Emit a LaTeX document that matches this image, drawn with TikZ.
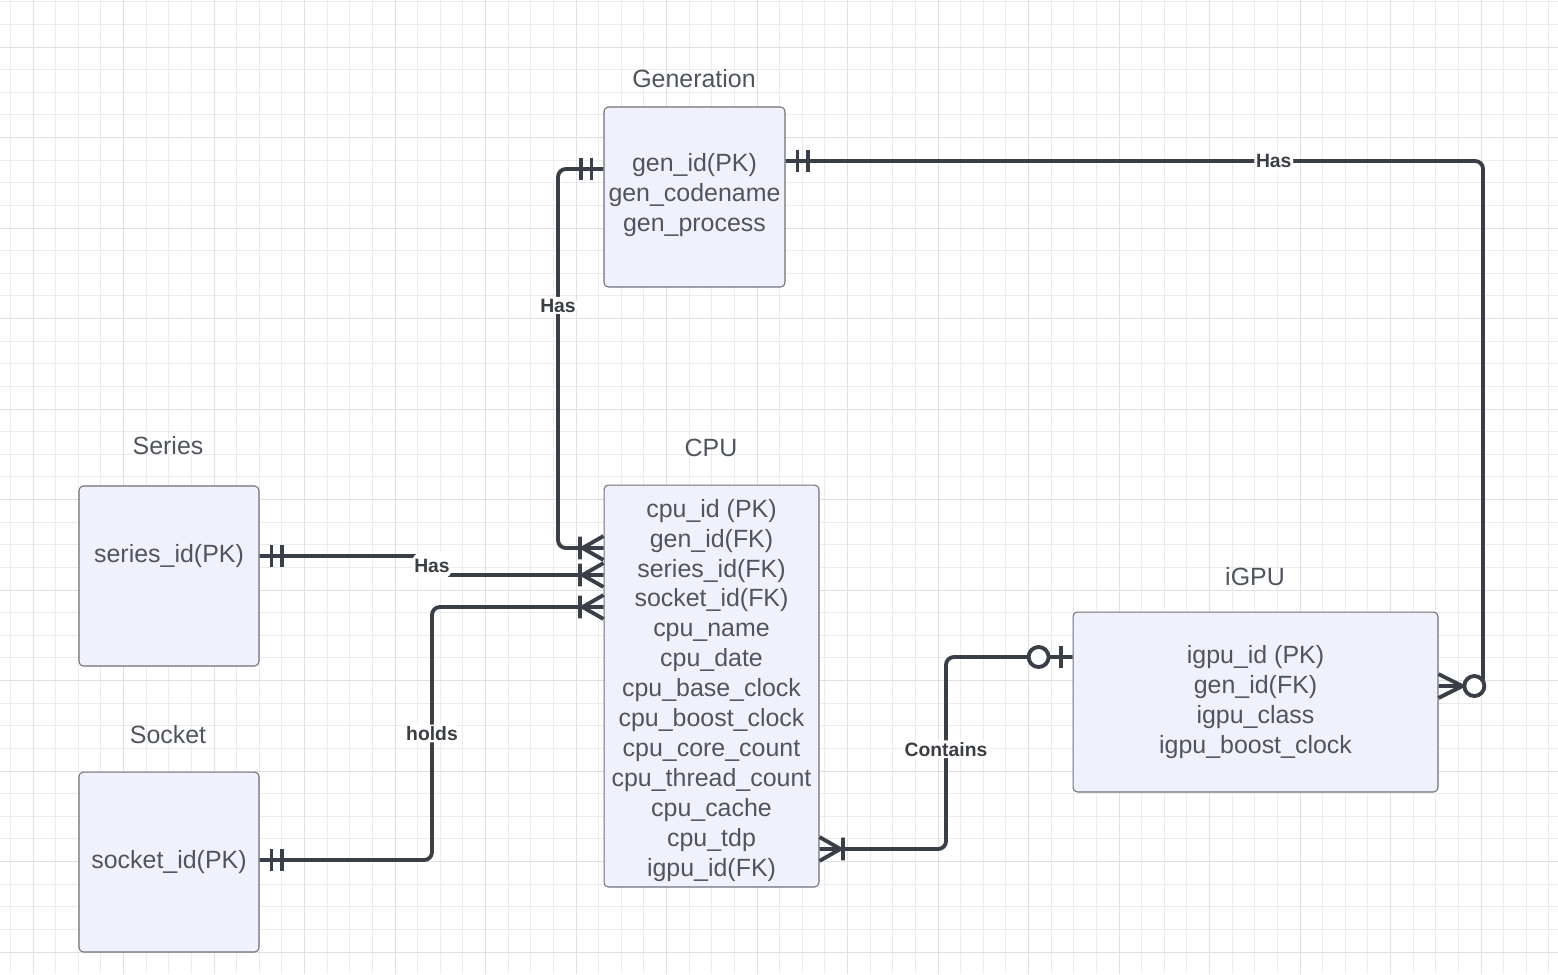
\documentclass[tikz,border=0pt]{standalone}
\usepackage{fontspec}
\setmainfont{Liberation Sans}
\usetikzlibrary{arrows.meta}

\definecolor{lineclr}{HTML}{3A3F47}
\definecolor{txtclr}{HTML}{50555D}
\definecolor{lblclr}{HTML}{3A3D42}
\definecolor{boxfill}{HTML}{F1F1FD}
\definecolor{boxline}{HTML}{6E7178}
\definecolor{gridminor}{HTML}{ECECEC}
\definecolor{gridmajor}{HTML}{E0E0E0}

% ER end marks
\pgfdeclarearrow{
  name = ERone,
  setup code = {
    \pgfarrowssettipend{0pt}
    \pgfarrowssetlineend{0pt}
    \pgfarrowssetbackend{-14pt}
    \pgfarrowssetvisualbackend{-14pt}
  },
  drawing code = {
    \pgfsetlinewidth{2.2pt}
    \pgfpathmoveto{\pgfqpoint{-6.8pt}{6.5pt}}
    \pgfpathlineto{\pgfqpoint{-6.8pt}{-6.5pt}}
    \pgfpathmoveto{\pgfqpoint{-13pt}{6.5pt}}
    \pgfpathlineto{\pgfqpoint{-13pt}{-6.5pt}}
    \pgfusepathqstroke
  }
}
\pgfdeclarearrow{
  name = ERmany,
  setup code = {
    \pgfarrowssettipend{0pt}
    \pgfarrowssetlineend{0pt}
    \pgfarrowssetbackend{-15pt}
    \pgfarrowssetvisualbackend{-15pt}
  },
  drawing code = {
    \pgfsetlinewidth{2.2pt}
    \pgfpathmoveto{\pgfqpoint{0pt}{6.8pt}}
    \pgfpathlineto{\pgfqpoint{-11.9pt}{0pt}}
    \pgfpathlineto{\pgfqpoint{0pt}{-6.8pt}}
    \pgfpathmoveto{\pgfqpoint{-13.4pt}{6.5pt}}
    \pgfpathlineto{\pgfqpoint{-13.4pt}{-6.5pt}}
    \pgfusepathqstroke
  }
}
\pgfdeclarearrow{
  name = ERzeroone,
  setup code = {
    \pgfarrowssettipend{0pt}
    \pgfarrowssetlineend{0pt}
    \pgfarrowssetbackend{-26pt}
    \pgfarrowssetvisualbackend{-26pt}
  },
  drawing code = {
    \pgfsetlinewidth{2.2pt}
    \pgfpathmoveto{\pgfqpoint{-6.8pt}{6.5pt}}
    \pgfpathlineto{\pgfqpoint{-6.8pt}{-6.5pt}}
    \pgfusepathqstroke
    \pgfsetfillcolor{white}
    \pgfpathcircle{\pgfqpoint{-19.3pt}{0pt}}{5.7pt}
    \pgfusepathqfillstroke
  }
}
\pgfdeclarearrow{
  name = ERzeromany,
  setup code = {
    \pgfarrowssettipend{0pt}
    \pgfarrowssetlineend{0pt}
    \pgfarrowssetbackend{-27pt}
    \pgfarrowssetvisualbackend{-27pt}
  },
  drawing code = {
    \pgfsetlinewidth{2.2pt}
    \pgfpathmoveto{\pgfqpoint{0pt}{6.8pt}}
    \pgfpathlineto{\pgfqpoint{-13.6pt}{0pt}}
    \pgfpathlineto{\pgfqpoint{0pt}{-6.8pt}}
    \pgfusepathqstroke
    \pgfsetfillcolor{white}
    \pgfpathcircle{\pgfqpoint{-20.4pt}{0pt}}{5.7pt}
    \pgfusepathqfillstroke
  }
}

\begin{document}
\begin{tikzpicture}[
  x=0.02cm, y=-0.02cm,
  font={\fontsize{14.2}{17.07}\selectfont},
  entity/.style={draw=boxline, fill=boxfill, line width=.6pt, rounded corners=2.5pt, inner sep=0pt, align=center, text=txtclr},
  title/.style={text=txtclr},
  attr/.style={text=txtclr, align=center},
  rel/.style={draw=lineclr, line width=2.2pt, rounded corners=4.5pt},
  lbl/.style={fill=white, inner sep=1pt, text=lblclr, font={\bfseries\fontsize{11}{13}\selectfont}},
  minorline/.style={draw=gridminor, line width=.5pt},
  majorline/.style={draw=gridmajor, line width=.5pt},
]
\useasboundingbox (0,0) rectangle (1558,974);

% grid
\foreach \i in {0,...,68} \draw[minorline] ({10.4+22.625*\i},0) -- ++(0,974);
\foreach \j in {0,...,42} \draw[minorline] (0,{1.75+22.625*\j}) -- ++(1558,0);
\foreach \i in {0,...,16} \draw[majorline] ({33+90.5*\i},0) -- ++(0,974);
\foreach \j in {0,...,10} \draw[majorline] (0,{47+90.5*\j}) -- ++(1558,0);

% entities
\node[entity, minimum width=3.62cm, minimum height=3.6cm] (gen) at (694.5,197) {};
\node[attr] (genattrs) at (694.5,195) {gen\_id(PK)\\gen\_codename\\gen\_process};
\node[entity, minimum width=4.3cm, minimum height=8.04cm] (cpu) at (711.5,686) {};
\node[attr] (cpuattrs) at (711.5,690.5)
  {cpu\_id (PK)\\gen\_id(FK)\\series\_id(FK)\\socket\_id(FK)\\cpu\_name\\cpu\_date\\cpu\_base\_clock\\cpu\_boost\_clock\\cpu\_core\_count\\cpu\_thread\_count\\cpu\_cache\\cpu\_tdp\\igpu\_id(FK)};
\node[entity, minimum width=3.6cm, minimum height=3.6cm] (series) at (169,576) {};
\node[attr] (seriesattr) at (169,556) {series\_id(PK)};
\node[entity, minimum width=3.6cm, minimum height=3.6cm] (socket) at (169,862) {socket\_id(PK)};
\node[entity, minimum width=7.3cm, minimum height=3.6cm] (igpu) at (1255.5,702)
  {igpu\_id (PK)\\gen\_id(FK)\\igpu\_class\\igpu\_boost\_clock};

% titles
\node[title] (gentitle) at (694,79) {Generation};
\node[title] (cputitle) at (711,448) {CPU};
\node[title] (seriestitle) at (168,446) {Series};
\node[title] (sockettitle) at (168,735) {Socket};
\node[title] (igputitle) at (1255,577) {iGPU};

% relationships
\draw[rel, {ERone}-{ERmany}] (gen.west |- 0,169) -- (558,169)
  -- node[lbl, pos=.36] {Has} (558,548) -- (cpu.west |- 0,548);
\draw[rel, {ERone}-{ERmany}] (series.east |- 0,556) -- (432,556)
  -- node[lbl, minimum height=.5cm] {Has} (432,575) -- (cpu.west |- 0,575);
\draw[rel, {ERone}-{ERmany}] (socket.east |- 0,860) -- (432,860)
  -- node[lbl] {holds} (432,607) -- (cpu.west |- 0,607);
\draw[rel, {ERmany}-{ERzeroone}] (cpu.east |- 0,849) -- (946,849)
  -- node[lbl, pos=.52] {Contains} (946,657) -- (igpu.west |- 0,657);
\draw[rel, {ERone}-{ERzeromany}] (gen.east |- 0,161)
  -- node[lbl, pos=.7] {Has} (1483,161) -- (1483,686) -- (igpu.east |- 0,686);
\end{tikzpicture}
\end{document}
